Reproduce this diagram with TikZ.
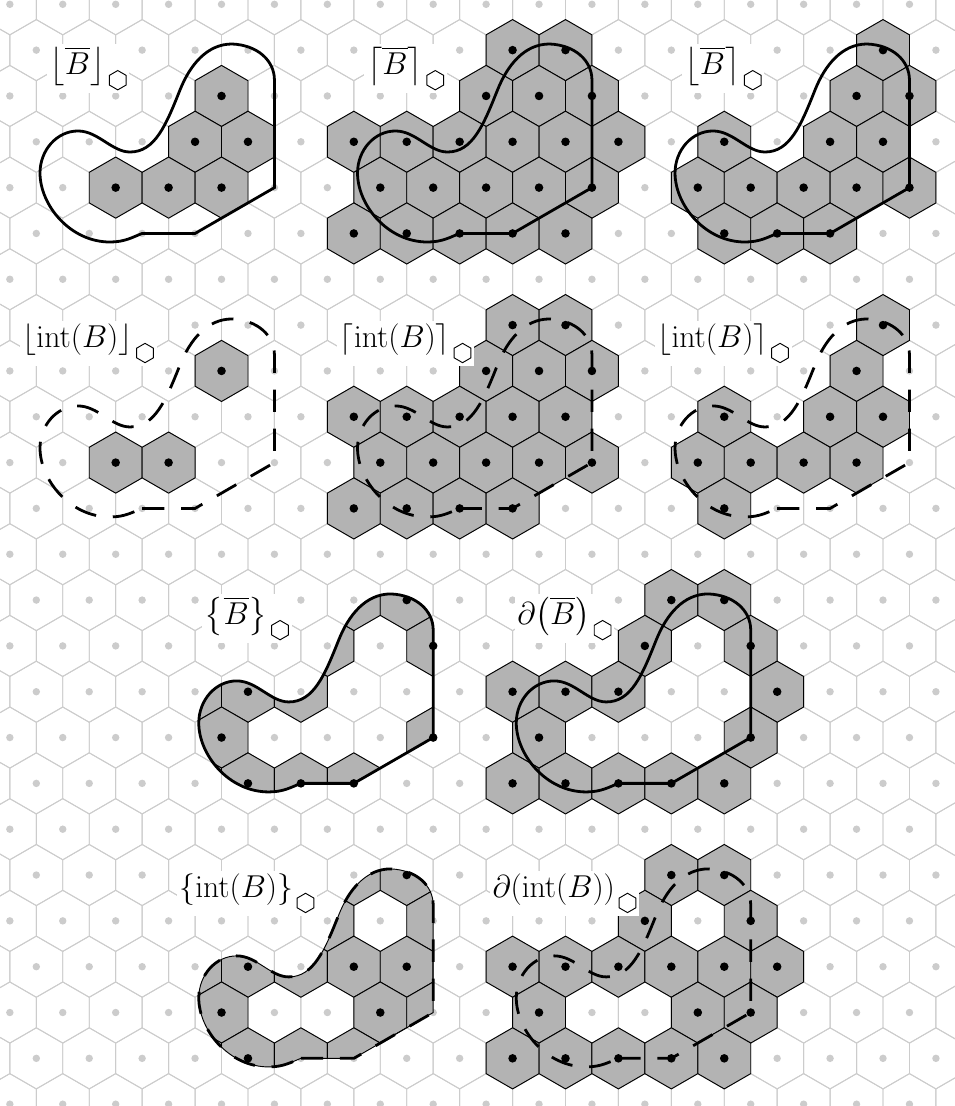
\RequirePackage{fix-cm}
\documentclass[tikz,border=0pt]{standalone}
\usepackage{amsmath}
\usepackage{tikz}
\definecolor{CellGray}{HTML}{B3B3B3}
\definecolor{GridGray}{HTML}{CCCCCC}

% hexagon around centre (#1,#2); rows are counted downwards
\newcommand{\hexcell}[2]{(#1,#2-0.6667) -- (#1+0.5,#2-0.3333) -- (#1+0.5,#2+0.3333) -- (#1,#2+0.6667) -- (#1-0.5,#2+0.3333) -- (#1-0.5,#2-0.3333) -- cycle}
% the set B
\newcommand{\blob}{(2.5,5) -- (3.5,5) -- (5,4) -- (5,1.652)
  .. controls (5,1.231) and (4.682,0.888) .. (4.198,0.866)
  .. controls (3.726,0.866) and (3.404,1.324) .. (3.215,1.870)
  .. controls (2.951,2.634) and (2.743,3.223) .. (2.270,3.223)
  .. controls (1.930,3.223) and (1.666,2.764) .. (1.288,2.764)
  .. controls (0.891,2.764) and (0.570,3.179) .. (0.570,3.681)
  .. controls (0.570,4.379) and (1.137,5.187) .. (1.893,5.187)
  .. controls (2.176,5.187) and (2.327,5.077) .. (2.5,5) -- cycle}
\newcommand{\hexsub}{\kern2pt\tikz[baseline=3pt]\draw[line width=0.5pt] (90:5.2pt) -- (150:5.2pt) -- (210:5.2pt) -- (270:5.2pt) -- (330:5.2pt) -- (30:5.2pt) -- cycle;}

% cell sets
\def\setFloorCl{4/2,3.5/3,4.5/3,2/4,3/4,4/4}
\def\setCeilCl{3.5/1,4.5/1,3/2,4/2,5/2,0.5/3,1.5/3,2.5/3,3.5/3,4.5/3,5.5/3,1/4,2/4,3/4,4/4,5/4,0.5/5,1.5/5,2.5/5,3.5/5,4.5/5}
\def\setRoundCl{4.5/1,4/2,5/2,1.5/3,3.5/3,4.5/3,1/4,2/4,3/4,4/4,5/4,1.5/5,2.5/5,3.5/5}
\def\setFloorInt{4/2,2/4,3/4}
\def\setCeilInt{3.5/1,4.5/1,3/2,4/2,5/2,0.5/3,1.5/3,2.5/3,3.5/3,4.5/3,1/4,2/4,3/4,4/4,5/4,0.5/5,1.5/5,2.5/5,3.5/5}
\def\setRoundInt{4.5/1,4/2,1.5/3,3.5/3,4.5/3,1/4,2/4,3/4,4/4,1.5/5}
\def\setBdCl{3.5/1,4.5/1,3/2,5/2,0.5/3,1.5/3,2.5/3,5.5/3,1/4,5/4,0.5/5,1.5/5,2.5/5,3.5/5,4.5/5}
\def\setBdInt{3.5/1,4.5/1,3/2,5/2,0.5/3,1.5/3,2.5/3,3.5/3,4.5/3,5.5/3,1/4,4/4,5/4,0.5/5,1.5/5,2.5/5,3.5/5,4.5/5}

\begin{document}
\begin{tikzpicture}[x=1cm,y=-0.866cm,
  gridline/.style={draw=GridGray,line width=0.5pt},
  cell/.style={fill=CellGray,draw=black,line width=0.5pt},
  border/.style={line width=1.5pt},
  inner border/.style={line width=1.5pt,dash pattern=on 12pt off 9pt},
  lbl/.style={fill=white,inner sep=1.5pt,font=\fontsize{17}{20}\selectfont}]
  \useasboundingbox (-0.186,-0.094) rectangle (17.86,24.04);

  % background grid
  \begin{scope}
    \clip (-0.186,-0.094) rectangle (17.86,24.04);
    \foreach \row in {0,...,24}
      \foreach \col in {-1,...,18} {
        \pgfmathsetmacro{\xx}{\col+0.5*mod(\row,2)}
        \draw[gridline] \hexcell{\xx}{\row};
        \fill[GridGray] (\xx,\row) circle (2pt);
      }
  \end{scope}

  % closure of B
  \begin{scope}
    \foreach \x/\y in \setFloorCl \filldraw[cell] \hexcell{\x}{\y};
    \foreach \x/\y in \setFloorCl \fill (\x,\y) circle (2.3pt);
    \draw[border] \blob;
    \node[lbl] (lab-floor-cl) at (1.48,1.4) {$\left\lfloor\overline{B}\right\rfloor$\hexsub};
  \end{scope}
  \begin{scope}[shift={(6,0)}]
    \foreach \x/\y in \setCeilCl \filldraw[cell] \hexcell{\x}{\y};
    \foreach \x/\y in \setCeilCl \fill (\x,\y) circle (2.3pt);
    \draw[border] \blob;
    \node[lbl] (lab-ceil-cl) at (1.48,1.4) {$\left\lceil\overline{B}\right\rceil$\hexsub};
  \end{scope}
  \begin{scope}[shift={(12,0)}]
    \foreach \x/\y in \setRoundCl \filldraw[cell] \hexcell{\x}{\y};
    \foreach \x/\y in \setRoundCl \fill (\x,\y) circle (2.3pt);
    \draw[border] \blob;
    \node[lbl] (lab-round-cl) at (1.48,1.4) {$\left\lfloor\overline{B}\right\rceil$\hexsub};
  \end{scope}

  % interior of B
  \begin{scope}[shift={(0,6)}]
    \foreach \x/\y in \setFloorInt \filldraw[cell] \hexcell{\x}{\y};
    \foreach \x/\y in \setFloorInt \fill (\x,\y) circle (2.3pt);
    \draw[inner border] \blob;
    \node[lbl] (lab-floor-int) at (1.48,1.4) {$\lfloor\mathrm{int}(B)\rfloor$\hexsub};
  \end{scope}
  \begin{scope}[shift={(6,6)}]
    \foreach \x/\y in \setCeilInt \filldraw[cell] \hexcell{\x}{\y};
    \foreach \x/\y in \setCeilInt \fill (\x,\y) circle (2.3pt);
    \draw[inner border] \blob;
    \node[lbl] (lab-ceil-int) at (1.48,1.4) {$\lceil\mathrm{int}(B)\rceil$\hexsub};
  \end{scope}
  \begin{scope}[shift={(12,6)}]
    \foreach \x/\y in \setRoundInt \filldraw[cell] \hexcell{\x}{\y};
    \foreach \x/\y in \setRoundInt \fill (\x,\y) circle (2.3pt);
    \draw[inner border] \blob;
    \node[lbl] (lab-round-int) at (1.48,1.4) {$\lfloor\mathrm{int}(B)\rceil$\hexsub};
  \end{scope}

  % boundary cells
  \begin{scope}[shift={(3,12)}]
    \begin{scope}
      \clip \blob;
      \foreach \x/\y in \setBdCl \filldraw[cell] \hexcell{\x}{\y};
    \end{scope}
    \foreach \x/\y in {4.5/1,5/2,1.5/3,1/4,5/4,1.5/5,2.5/5,3.5/5} \fill (\x,\y) circle (2.3pt);
    \draw[border] \blob;
    \node[lbl] (lab-set-cl) at (1.48,1.4) {$\left\{\overline{B}\right\}$\hexsub};
  \end{scope}
  \begin{scope}[shift={(9,12)}]
    \foreach \x/\y in \setBdCl \filldraw[cell] \hexcell{\x}{\y};
    \foreach \x/\y in \setBdCl \fill (\x,\y) circle (2.3pt);
    \draw[border] \blob;
    \node[lbl] (lab-bd-cl) at (1.48,1.4) {$\partial\bigl(\overline{B}\bigr)$\hexsub};
  \end{scope}
  \begin{scope}[shift={(3,18)}]
    \begin{scope}
      \clip \blob;
      \foreach \x/\y in \setBdInt \filldraw[cell] \hexcell{\x}{\y};
    \end{scope}
    \foreach \x/\y in {4.5/1,1.5/3,3.5/3,4.5/3,1/4,4/4,1.5/5} \fill (\x,\y) circle (2.3pt);
    \draw[line width=0.5pt] \blob;
    \draw[inner border] \blob;
    \node[lbl] (lab-set-int) at (1.48,1.4) {$\{\mathrm{int}(B)\}$\hexsub};
  \end{scope}
  \begin{scope}[shift={(9,18)}]
    \foreach \x/\y in \setBdInt \filldraw[cell] \hexcell{\x}{\y};
    \foreach \x/\y in \setBdInt \fill (\x,\y) circle (2.3pt);
    \draw[inner border] \blob;
    \node[lbl] (lab-bd-int) at (1.48,1.4) {$\partial(\mathrm{int}(B))$\hexsub};
  \end{scope}
\end{tikzpicture}
\end{document}
